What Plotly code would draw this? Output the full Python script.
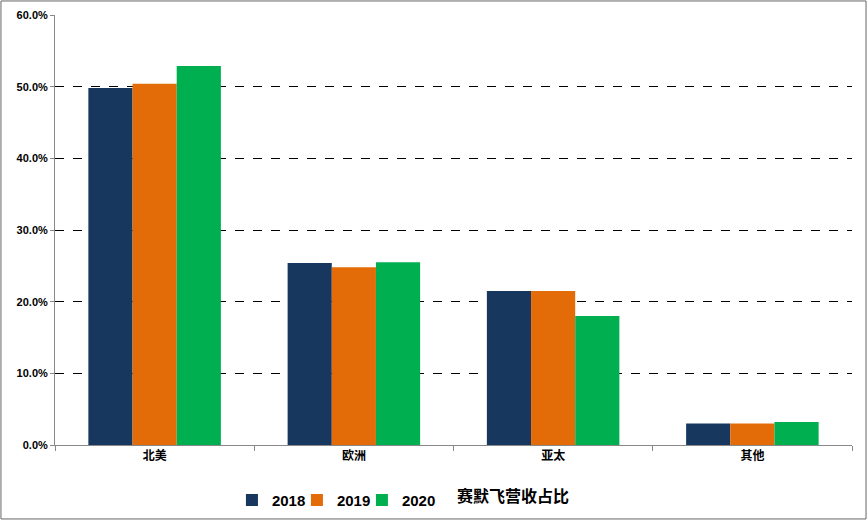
import plotly.graph_objects as go

regions = ['北美', '欧洲', '亚太', '其他']
years = ['2018', '2019', '2020']
share_2018 = [0.498, 0.254, 0.215, 0.030]
share_2019 = [0.504, 0.248, 0.215, 0.030]
share_2020 = [0.529, 0.255, 0.180, 0.032]
colors = ['#17375E', '#E36C09', '#00B050']

fig = go.Figure()
for yr, vals, c in zip(years, [share_2018, share_2019, share_2020], colors):
    fig.add_trace(go.Bar(x=regions, y=vals, name='<b>' + yr + '</b>',
                         marker=dict(color=c, line=dict(width=0))))
# invisible entry so the last legend label is not clipped
fig.add_trace(go.Scatter(x=[None], y=[None], mode='markers', name=' ',
                         marker=dict(color='rgba(0,0,0,0)'), hoverinfo='skip'))

fig.update_layout(
    width=868, height=521,
    barmode='group', bargap=0.335, bargroupgap=0,
    plot_bgcolor='white', paper_bgcolor='white',
    margin=dict(l=55, r=16, t=15, b=76, autoexpand=False),
    font=dict(family='Noto Sans CJK SC, DejaVu Sans', size=11, color='black'),
    legend=dict(orientation='h', x=0.222, xanchor='left', y=-0.09, yanchor='top',
                font=dict(size=15, family='Liberation Sans'),
                entrywidth=20, entrywidthmode='pixels', itemwidth=30),
    showlegend=True,
)
fig.update_yaxes(range=[0, 0.6], dtick=0.1, tickformat='.1%', showgrid=True,
                 gridcolor='black', griddash='dash', gridwidth=1,
                 showline=True, linecolor='#888', ticks='outside', ticklen=4,
                 tickcolor='#888', tickfont=dict(size=11, family='Liberation Sans'),
                 tickprefix='<b>', ticksuffix='</b>')
fig.update_xaxes(showline=True, linecolor='#888', ticks='outside', tickson='boundaries',
                 ticklen=5, tickcolor='#888', tickfont=dict(size=12),
                 tickvals=regions, ticktext=['<b>' + r + '</b>' for r in regions])
fig.add_annotation(x=0.502, y=-0.083, xref='paper', yref='paper', text='<b>赛默飞营收占比</b>',
                   showarrow=False, xanchor='left', yanchor='top',
                   font=dict(size=16, family='Noto Sans CJK SC'))
fig.add_shape(type='rect', xref='paper', yref='paper', x0=-0.0678, y0=-0.172, x1=1.0176, y1=1.0326,
              line=dict(color='#666', width=1))
fig.write_html('out.html', config={'displayModeBar': False},
               post_script="document.body.style.margin='0';")
